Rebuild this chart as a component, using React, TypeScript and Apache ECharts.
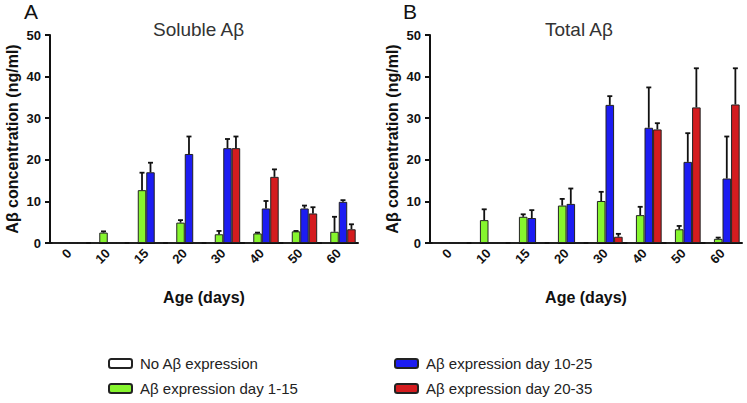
import React, { useEffect, useRef } from "react";
import * as echarts from "echarts";

const categories = ["0", "10", "15", "20", "30", "40", "50", "60"];
const yTicks = [0, 10, 20, 30, 40, 50];

const seriesNames = [
  "No Aβ expression",
  "Aβ expression day 1-15",
  "Aβ expression day 10-25",
  "Aβ expression day 20-35",
];
const seriesColors = ["#ffffff", "#86f52e", "#1c1cf2", "#d41c1f"];

// Panel A: soluble Aβ (means and upper error)
const solubleNone = [0, 0, 0, 0, 0, 0, 0, 0];
const solubleDay1_15 = [0, 2.5, 12.7, 4.9, 2.1, 2.3, 2.8, 2.7];
const solubleDay1_15Err = [0, 0.3, 4.2, 0.6, 0.8, 0.2, 0.1, 3.6];
const solubleDay10_25 = [0, 0, 17.0, 21.4, 22.8, 8.3, 8.3, 9.9];
const solubleDay10_25Err = [0, 0, 2.3, 4.2, 2.2, 1.8, 0.7, 0.4];
const solubleDay20_35 = [0, 0, 0, 0, 22.8, 15.9, 7.1, 3.3];
const solubleDay20_35Err = [0, 0, 0, 0, 2.8, 1.8, 1.5, 1.2];

// Panel B: total Aβ
const totalNone = [0, 0, 0, 0, 0, 0, 0, 0];
const totalDay1_15 = [0, 5.5, 6.3, 9.0, 10.1, 6.7, 3.3, 1.0];
const totalDay1_15Err = [0, 2.6, 0.6, 1.6, 2.2, 2.0, 0.8, 0.3];
const totalDay10_25 = [0, 0, 6.0, 9.4, 33.2, 27.7, 19.5, 15.5];
const totalDay10_25Err = [0, 0, 1.9, 3.7, 2.1, 9.7, 6.9, 10.1];
const totalDay20_35 = [0, 0, 0, 0, 1.5, 27.3, 32.6, 33.3];
const totalDay20_35Err = [0, 0, 0, 0, 0.7, 1.5, 9.4, 8.7];

const panels = [
  {
    letter: "A",
    title: "Soluble Aβ",
    values: [solubleNone, solubleDay1_15, solubleDay10_25, solubleDay20_35],
    errors: [null, solubleDay1_15Err, solubleDay10_25Err, solubleDay20_35Err],
  },
  {
    letter: "B",
    title: "Total Aβ",
    values: [totalNone, totalDay1_15, totalDay10_25, totalDay20_35],
    errors: [null, totalDay1_15Err, totalDay10_25Err, totalDay20_35Err],
  },
];

const GAP = 0.12;
const FONT = "'Liberation Sans', Arial, sans-serif";

export default function App() {
  const ref = useRef<HTMLDivElement>(null);
  useEffect(() => {
    if (!ref.current) return;
    const chart = echarts.init(ref.current, undefined, { renderer: "svg" });
    const grids = [
      { left: 50, top: 35, width: 308, height: 208 },
      { left: 430, top: 35, width: 312, height: 208 },
    ];
    const xAxes: any[] = [];
    const yAxes: any[] = [];
    const series: any[] = [];
    panels.forEach((p, gi) => {
      xAxes.push({
        type: "category",
        gridIndex: gi,
        data: categories,
        name: "Age (days)",
        nameLocation: "middle",
        nameGap: 46,
        nameTextStyle: { fontFamily: FONT, fontWeight: "bold", fontSize: 16, color: "#111" },
        axisLine: { lineStyle: { color: "#111", width: 2 } },
        axisTick: { alignWithLabel: true, length: 5, lineStyle: { color: "#111", width: 2 } },
        axisLabel: {
          rotate: 45,
          fontFamily: FONT,
          fontWeight: "bold",
          fontSize: 13,
          color: "#111",
          margin: 8,
        },
      });
      yAxes.push({
        type: "value",
        gridIndex: gi,
        min: 0,
        max: 50,
        interval: 10,
        name: "Aβ concentration (ng/ml)",
        nameLocation: "middle",
        nameGap: 30,
        nameTextStyle: { fontFamily: FONT, fontWeight: "bold", fontSize: 16, color: "#111" },
        axisLine: { show: true, lineStyle: { color: "#111", width: 2 } },
        axisTick: { show: true, length: 5, lineStyle: { color: "#111", width: 2 } },
        axisLabel: {
          fontFamily: FONT,
          fontWeight: "bold",
          fontSize: 13,
          color: "#111",
          margin: 9,
          formatter: (v: number) => (yTicks.includes(v) ? String(v) : ""),
        },
        splitLine: { show: false },
      });
      p.values.forEach((vals, k) => {
        series.push({
          type: "bar",
          name: seriesNames[k],
          xAxisIndex: gi,
          yAxisIndex: gi,
          data: vals,
          barGap: "0%",
          barCategoryGap: GAP * 100 + "%",
          itemStyle: {
            color: seriesColors[k],
            borderColor: "#222",
            borderWidth: k === 0 ? 2 : 1,
          },
        });
      });
      p.errors.forEach((errs, k) => {
        if (!errs) return;
        const vals = p.values[k];
        const data = vals
          .map((v, i) => [i, v, v + errs[i]])
          .filter((d, i) => vals[i] > 0);
        series.push({
          type: "custom",
          name: "err" + gi + k,
          xAxisIndex: gi,
          yAxisIndex: gi,
          z: 5,
          data,
          encode: { x: 0, y: 2 },
          renderItem: (params: any, api: any) => {
            const idx = api.value(0);
            const v = api.value(1);
            const top = api.value(2);
            const band = api.size([1, 0])[0];
            const bw = (band * (1 - GAP)) / 4;
            const c = api.coord([idx, v]);
            const x = c[0] - 2 * bw + (k + 0.5) * bw;
            const y0 = c[1];
            const y1 = api.coord([idx, top])[1];
            return {
              type: "group",
              children: [
                {
                  type: "line",
                  shape: { x1: x, y1: y0, x2: x, y2: y1 },
                  style: { stroke: "#111", lineWidth: 1.8 },
                },
                {
                  type: "line",
                  shape: { x1: x - 2.5, y1: y1, x2: x + 2.5, y2: y1 },
                  style: { stroke: "#111", lineWidth: 1.8 },
                },
              ],
            };
          },
        });
      });
    });

    const legendCommon = {
      orient: "vertical",
      top: 356,
      padding: 0,
      itemWidth: 23,
      itemHeight: 9,
      itemGap: 10,
      icon: "roundRect",
      selectedMode: false,
      textStyle: { fontFamily: FONT, fontSize: 15, color: "#222", padding: [0, 0, 0, 3] },
    };

    chart.setOption({
      animation: false,
      backgroundColor: "#ffffff",
      textStyle: { fontFamily: FONT },
      grid: grids,
      xAxis: xAxes,
      yAxis: yAxes,
      series,
      title: [
        { text: "A", left: 24, top: 1, padding: 0, textStyle: { fontFamily: FONT, fontSize: 21, fontWeight: "normal", color: "#111" } },
        { text: "Soluble Aβ", left: 153, top: 20, padding: 0, textStyle: { fontFamily: FONT, fontSize: 19, fontWeight: "normal", color: "#333" } },
        { text: "B", left: 403, top: 1, padding: 0, textStyle: { fontFamily: FONT, fontSize: 21, fontWeight: "normal", color: "#111" } },
        { text: "Total Aβ", left: 545, top: 20, padding: 0, textStyle: { fontFamily: FONT, fontSize: 19, fontWeight: "normal", color: "#333" } },
      ],
      legend: [
        { ...legendCommon, data: [seriesNames[0], seriesNames[1]], left: 108 },
        { ...legendCommon, data: [seriesNames[2], seriesNames[3]], left: 394 },
      ],
    });
    return () => chart.dispose();
  }, []);
  return <div ref={ref} style={{ width: 747, height: 403, position: "absolute", left: 0, top: 0 }} />;
}
